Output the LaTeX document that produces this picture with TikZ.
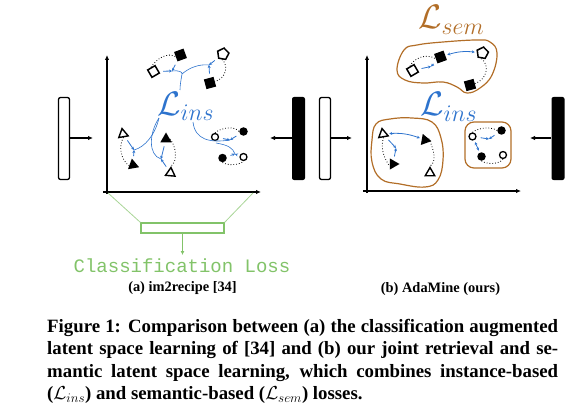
\RequirePackage{fix-cm}
\documentclass[tikz,border=0pt]{standalone}
\usepackage[no-math]{fontspec}
\setmainfont{Liberation Serif}
\setmonofont{Liberation Mono}
\usetikzlibrary{shapes.geometric,arrows.meta}
\definecolor{insblue}{RGB}{45,115,205}
\definecolor{semorange}{RGB}{178,110,40}
\definecolor{clsgreen}{RGB}{130,195,105}

\begin{document}
\begin{tikzpicture}[x=1pt,y=-1pt,
    wsq/.style={draw,fill=white,line width=1.5pt,minimum size=8.5pt,inner sep=0pt},
    bsq/.style={fill=black,minimum size=10pt,inner sep=0pt},
    wquad/.style={draw,fill=white,line width=1.5pt,regular polygon,
        regular polygon sides=5,minimum size=12pt,inner sep=0pt},
    wtri/.style={draw,fill=white,line width=1.4pt,regular polygon,
        regular polygon sides=3,minimum size=11pt,inner sep=0pt},
    btri/.style={fill=black,regular polygon,regular polygon sides=3,
        minimum size=13pt,inner sep=0pt},
    wcirc/.style={draw,fill=white,circle,line width=1.3pt,minimum size=7pt,inner sep=0pt},
    bcirc/.style={fill=black,circle,minimum size=8.5pt,inner sep=0pt},
    ins/.style={insblue,line width=.8pt,-{Stealth[length=3pt,width=3pt]},shorten <=4pt},
    insboth/.style={insblue,line width=.8pt,
        {Stealth[length=3pt,width=3pt]}-{Stealth[length=3pt,width=3pt]},
        shorten <=2pt,shorten >=2pt},
    link/.style={insblue,line width=.6pt},
    pairline/.style={dotted,line width=.8pt},
    blob/.style={semorange,line width=1.2pt},
    wbar/.style={draw,fill=white,line width=1.3pt,rounded corners=2pt,
        minimum width=11pt,minimum height=82pt,inner sep=0pt},
    bbar/.style={fill=black,rounded corners=2pt,minimum width=13pt,
        minimum height=83pt,inner sep=0pt},
    feed/.style={line width=1.1pt,-{Latex[length=5pt,width=4.5pt]}},
    axis/.style={line width=1.3pt,-{Latex[length=5pt,width=4.5pt]}},
    loss/.style={inner sep=0pt,font=\fontsize{34}{36}\selectfont}]

    \useasboundingbox (0,0) rectangle (579,412);

    % the semantic blobs of (b)
    \draw[blob] plot[smooth cycle,tension=.7] coordinates {(397,70) (404,50)
        (417,45) (443,42) (477,40) (490,42) (497,53) (492,75) (480,88)
        (467,93) (457,87) (443,82) (423,83) (405,80)};
    \draw[blob] plot[smooth cycle,tension=.7] coordinates {(372,140) (376,124)
        (390,119) (412,118) (432,122) (441,138) (443,160) (438,180) (425,187)
        (400,184) (381,179) (372,162)};
    \draw[blob,rounded corners=9pt] (465,122) rectangle (511,168);

    % bars and axes
    \node[wbar] (wbarA) at (64,138.5) {};
    \node[bbar] (bbarA) at (298.5,138.5) {};
    \node[wbar] (wbarB) at (325,138.5) {};
    \node[bbar] (bbarB) at (558,138.5) {};

    \coordinate (inA) at (93,138);
    \coordinate (inA2) at (270,138);
    \coordinate (inB) at (352,138);
    \coordinate (inB2) at (530,138);
    \draw[feed] (wbarA.east |- inA) -- (inA);
    \draw[feed] (bbarA.west |- inA2) -- (inA2);
    \draw[feed] (wbarB.east |- inB) -- (inB);
    \draw[feed] (bbarB.west |- inB2) -- (inB2);

    \coordinate (oA) at (107,192);
    \coordinate (yA) at (107,55);
    \coordinate (xA) at (261,192);
    \draw[axis] (107,194) -- (yA);
    \draw[axis] (103,192) -- (xA);
    \coordinate (oB) at (367,191);
    \coordinate (yB) at (367,55);
    \coordinate (xB) at (521,191);
    \draw[axis] (367,193) -- (yB);
    \draw[axis] (363,191) -- (xB);

    % the losses
    \node[loss,insblue,anchor=base west] (lA) at (157,115) {$\mathcal{L}_{ins}$};
    \node[loss,insblue,anchor=base west] (lB) at (420,116) {$\mathcal{L}_{ins}$};
    \node[loss,semorange,anchor=base west] (lS) at (418,29) {$\mathcal{L}_{sem}$};

    % the items of (a)
    \node[wsq,rotate=30] (wsq1) at (153.5,71.5) {};
    \node[bsq,rotate=20] (bsq1) at (180.5,55) {};
    \node[wquad,rotate=-10] (wquad1) at (223,54) {};
    \node[bsq,rotate=15] (bsq2) at (210,83) {};
    \node[wtri,rotate=10] (wtri1) at (123,134) {};
    \node[btri,rotate=10] (btri1) at (133,165) {};
    \node[btri] (btri2) at (166,139) {};
    \node[wtri,rotate=-5] (wtri2) at (170.5,173) {};
    \node[wcirc] (wc1) at (215,137) {};
    \node[bcirc] (bc1) at (243.5,131.5) {};
    \node[bcirc] (bc2) at (222.5,158) {};
    \node[wcirc] (wc2) at (243.5,157) {};

    \draw[pairline] (wsq1.north) .. controls (157,58) and (168,52) .. (bsq1.west);
    \draw[pairline] (wquad1.south) .. controls (229,66) and (226,78) .. (bsq2.east);
    \draw[pairline] (wtri1.south) .. controls (118,146) and (121,160) .. (btri1.west);
    \draw[pairline] (btri2.east) .. controls (176,146) and (178,161) .. (wtri2.north);
    \draw[pairline] (wc1.north) .. controls (222,127) and (235,126) .. (bc1.west);
    \draw[pairline] (bc2.south) .. controls (228,166) and (240,165) .. (wc2.south);

    \coordinate (m1) at (172,71);
    \coordinate (m2) at (209,65);
    \coordinate (m3) at (134,150);
    \coordinate (m4) at (161,159);
    \coordinate (m5) at (230,140);
    \coordinate (m6) at (235,154);
    \coordinate (j1) at (182,74);
    \coordinate (jc) at (216,143);
    \coordinate (lTopA) at (180,90);
    \coordinate (lBotA) at (159,118);
    \coordinate (lSubA) at (193,122);

    \draw[link] (m1) .. controls (178,70) and (183,72) .. (j1)
        .. controls (181,80) and (180,85) .. (lTopA);
    \draw[link] (j1) .. controls (190,67) and (200,64) .. (m2);
    \draw[link] (lBotA) .. controls (155,135) and (145,147) .. (m3);
    \draw[link] (lBotA) .. controls (149,133) and (148,155) .. (m4);
    \draw[link] (lSubA) .. controls (195,140) and (210,143) .. (m5);
    \draw[link] (jc) .. controls (228,145) and (233,148) .. (m6);

    \draw[ins] (wsq1) -- (m1);
    \draw[ins] (bsq1) -- (m1);
    \draw[ins] (wquad1) -- (m2);
    \draw[ins] (bsq2) -- (m2);
    \draw[ins] (wtri1) -- (m3);
    \draw[ins] (btri1) -- (m3);
    \draw[ins] (btri2) -- (m4);
    \draw[ins] (wtri2) -- (m4);
    \draw[ins] (wc1) -- (m5);
    \draw[ins] (bc1) -- (m5);
    \draw[ins] (bc2) -- (m6);
    \draw[ins] (wc2) -- (m6);

    % the items of (b)
    \node[wsq,rotate=30] (wsq3) at (412.5,70.5) {};
    \node[bsq,rotate=20] (bsq3) at (440.5,57) {};
    \node[wquad,rotate=-10] (wquad2) at (482.5,53) {};
    \node[bsq,rotate=15] (bsq4) at (470,85) {};
    \node[wtri,rotate=10] (wtri3) at (383,134) {};
    \node[btri,rotate=20] (btri3) at (425,140) {};
    \node[btri,rotate=30] (btri4) at (393,164) {};
    \node[wtri] (wtri4) at (430,173) {};
    \node[wcirc] (wc3) at (472.5,136.5) {};
    \node[bcirc] (bc3) at (501.5,130.5) {};
    \node[bcirc] (bc4) at (481.5,156.5) {};
    \node[wcirc] (wc4) at (503,155) {};

    \draw[pairline] (wsq3.north) .. controls (414,58) and (426,53) .. (bsq3.west);
    \draw[pairline] (wquad2.south) .. controls (490,66) and (487,79) .. (bsq4.east);
    \draw[pairline] (wtri3.south) .. controls (380,148) and (384,158) .. (btri4.west);
    \draw[pairline] (btri3.east) .. controls (434,150) and (437,162) .. (wtri4.north);
    \draw[pairline] (wc3.north) .. controls (478,128) and (490,126) .. (bc3.west);
    \draw[pairline] (bc4.south) .. controls (488,165) and (500,164) .. (wc4.south);

    \coordinate (m7) at (431,66.5);
    \coordinate (m8) at (396,148);
    \coordinate (m9) at (489,139);
    \draw[ins] (wsq3) -- (m7);
    \draw[ins] (bsq3) -- (m7);
    \draw[ins] (wtri3) -- (m8);
    \draw[ins] (btri4) -- (m8);
    \draw[ins] (wc3) -- (m9);
    \draw[ins] (bc3) -- (m9);
    \draw[insboth] (bsq3) to[bend left=12] (wquad2);
    \draw[insboth] (wtri3) to[bend left=12] (btri3);
    \draw[insboth] (wc3) -- (bc4);

    % classification branch of (a)
    \node[draw=clsgreen,line width=1.2pt,minimum width=83pt,minimum height=10pt,
        inner sep=0pt] (cls) at (182.5,228) {};
    \coordinate (xEndA) at (253,193);
    \coordinate (clsT) at (182.5,255);
    \draw[clsgreen!70,line width=.8pt] (108,193) -- (cls.north west);
    \draw[clsgreen!70,line width=.8pt] (xEndA) -- (cls.north east);
    \draw[clsgreen,line width=1pt,-{Latex[length=4pt,width=4pt]}] (cls.south) -- (clsT);
    \node[clsgreen,font=\ttfamily\fontsize{19}{20}\selectfont] (clstext) at (182,266)
        {Classification Loss};

    % sub captions and caption
    \node[font=\bfseries\fontsize{14.4}{16}\selectfont] (capA) at (182.5,288)
        {(a) im2recipe [34]};
    \node[font=\bfseries\fontsize{14.4}{16}\selectfont] (capB) at (440.5,289)
        {(b) AdaMine (ours)};
    \node[anchor=north west,inner sep=0pt,text width=511pt,align=justify,
        font=\bfseries\fontsize{18.8}{22.5}\selectfont] (cap) at (47,319)
        {Figure 1: Comparison between (a) the classification augmented\linebreak
        latent space learning of [34] and (b) our joint retrieval and se-\linebreak
        mantic latent space learning, which combines instance-based\linebreak
        ($\mathcal{L}_{ins}$) and semantic-based ($\mathcal{L}_{sem}$) losses.};
\end{tikzpicture}
\end{document}
